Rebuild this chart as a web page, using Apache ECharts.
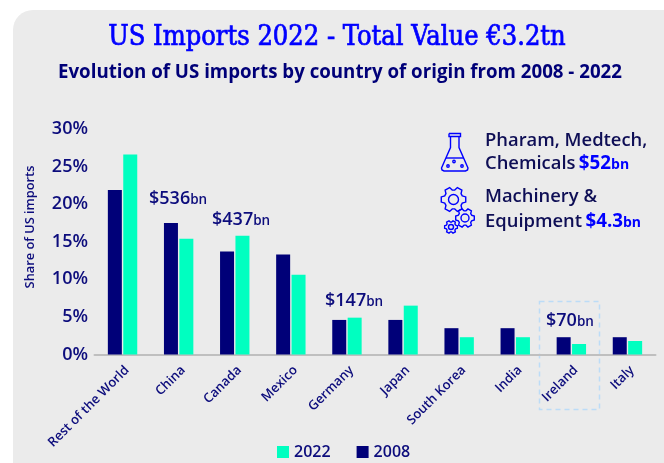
<!DOCTYPE html>
<html>
<head>
<meta charset="utf-8">
<style>
  html, body { margin: 0; padding: 0; background: #fff; }
  #main { width: 664px; height: 463px; }
</style>
<script src="https://cdn.jsdelivr.net/npm/echarts@6/dist/echarts.min.js"></script>
</head>
<body>
<div id="main"></div>
<script>
var categories = ['Rest of the World', 'China', 'Canada', 'Mexico', 'Germany', 'Japan', 'South Korea', 'India', 'Ireland', 'Italy'];
var values2008 = [21.9, 17.5, 13.7, 13.3, 4.6, 4.6, 3.5, 3.5, 2.3, 2.3];
var values2022 = [26.6, 15.4, 15.8, 10.6, 4.9, 6.5, 2.3, 2.3, 1.4, 1.8];

var navy = '#000078';
var mint = '#00ffc0';
var textNavy = '#0c0c7c';
var textDark = '#0e0e55';
var brightBlue = '#0000ff';
var font = '"Open Sans", "Noto Sans", sans-serif';

// gear outline for the icon
function gear(cx, cy, r, teeth) {
    var pts = [];
    var inner = r * 0.76;
    var w = Math.PI / teeth;
    for (var i = 0; i < teeth; i++) {
        var a = i * 2 * w;
        [[inner, a - w * 0.75], [r, a - w * 0.4], [r, a + w * 0.4], [inner, a + w * 0.75]].forEach(function (p) {
            pts.push([cx + p[0] * Math.cos(p[1]), cy + p[0] * Math.sin(p[1])]);
        });
    }
    return { type: 'polygon', shape: { points: pts }, style: { fill: null, stroke: brightBlue, lineWidth: 1.4 } };
}

function stroke(points) {
    return { type: 'polyline', shape: { points: points }, style: { fill: null, stroke: brightBlue, lineWidth: 1.4 } };
}

function ring(cx, cy, r) {
    return { type: 'circle', shape: { cx: cx, cy: cy, r: r }, style: { fill: null, stroke: brightBlue, lineWidth: 1.4 } };
}

function callout(x, y, value) {
    return {
        type: 'text', x: x, y: y,
        style: {
            text: '{a|' + value + '}{b|bn}',
            rich: {
                a: { font: '600 18px ' + font, fill: textNavy },
                b: { font: '600 13.5px ' + font, fill: textNavy, padding: [2, 0, 0, 0] }
            },
            verticalAlign: 'middle'
        }
    };
}

function sideText(x, y, plain, value) {
    var text = '{a|' + plain + '}';
    if (value) text += ' {v|' + value + '}{b|bn}';
    return {
        type: 'text', x: x, y: y,
        style: {
            text: text,
            rich: {
                a: { font: '600 18.4px ' + font, fill: textDark },
                v: { font: '700 18.8px ' + font, fill: brightBlue },
                b: { font: '700 14px ' + font, fill: brightBlue, padding: [2, 0, 0, 0] }
            },
            verticalAlign: 'middle'
        }
    };
}

var myChart = echarts.init(document.getElementById('main'), null, { renderer: 'canvas' });

var option = {
    backgroundColor: '#ffffff',
    animation: false,
    textStyle: { fontFamily: font },
    legend: {
        data: ['2022', '2008'],
        left: 272,
        top: 439,
        itemWidth: 12,
        itemHeight: 12,
        itemGap: 26,
        icon: 'rect',
        textStyle: { color: textNavy, fontSize: 16, fontWeight: 600, fontFamily: font }
    },
    grid: { left: 94.5, width: 561, top: 129, height: 225.5 },
    xAxis: {
        type: 'category',
        data: categories,
        axisLine: { lineStyle: { color: '#bfbfbf', width: 2 } },
        axisTick: { show: false },
        axisLabel: {
            rotate: 45,
            interval: 0,
            margin: 9,
            verticalAlign: 'top',
            color: textNavy,
            fontSize: 13,
            fontWeight: 600,
            fontFamily: font
        }
    },
    yAxis: {
        type: 'value',
        min: 0,
        max: 30,
        interval: 5,
        splitLine: { show: false },
        axisLine: { show: false },
        axisTick: { show: false },
        axisLabel: {
            margin: 6.5,
            color: textNavy,
            fontSize: 18,
            fontWeight: 600,
            fontFamily: font,
            formatter: '{value}%'
        }
    },
    series: [
        { name: '2008', type: 'bar', data: values2008, barWidth: 14, barGap: '10%', itemStyle: { color: navy } },
        { name: '2022', type: 'bar', data: values2022, barWidth: 14, barGap: '10%', itemStyle: { color: mint } }
    ],
    graphic: [
        { type: 'rect', z: -10, silent: true, shape: { x: 13, y: 10, width: 670, height: 470, r: [20, 0, 0, 0] }, style: { fill: '#ebebeb' } },
        { type: 'text', x: 337, y: 38, style: { text: 'US Imports 2022 - Total Value €3.2tn', font: '400 27px "DejaVu Serif Condensed", "DejaVu Serif", serif', fill: brightBlue, stroke: brightBlue, lineWidth: 0.7, textAlign: 'center', verticalAlign: 'middle' } },
        { type: 'text', x: 340, y: 73, style: { text: 'Evolution of US imports by country of origin from 2008 - 2022', font: '700 18.7px ' + font, fill: navy, textAlign: 'center', verticalAlign: 'middle' } },
        { type: 'text', x: 30, y: 227, rotation: Math.PI / 2, style: { text: 'Share of US imports', font: '600 12.8px ' + font, fill: textNavy, textAlign: 'center', verticalAlign: 'middle' } },
        callout(149, 199, '$536'),
        callout(212, 220, '$437'),
        callout(325, 301, '$147'),
        callout(546, 321, '$70'),
        { type: 'rect', shape: { x: 539.5, y: 301.5, width: 60, height: 108 }, style: { fill: null, stroke: '#bcdcf7', lineWidth: 1.5, lineDash: [5, 4] } },
        stroke([[449, 133.5], [460.5, 133.5], [460.5, 136.5], [449, 136.5], [449, 133.5]]),
        stroke([[450.5, 136.5], [450.5, 147.5], [441.5, 168], [442, 170], [444, 171], [465.5, 171], [467.5, 170], [468, 168], [459, 147.5], [459, 136.5]]),
        stroke([[446, 158], [463.5, 158]]),
        ring(448, 166, 1.2),
        ring(454, 161.5, 1.2),
        ring(462, 166, 1.2),
        gear(453.5, 199.5, 12.5, 6),
        ring(453.5, 199.5, 5),
        gear(465, 218, 9.5, 6),
        ring(465, 218, 4),
        gear(451, 227, 6.5, 6),
        ring(451, 227, 2.5),
        sideText(485, 141, 'Pharam, Medtech,'),
        sideText(485, 164, 'Chemicals', '$52'),
        sideText(485, 197, 'Machinery &'),
        sideText(485, 222, 'Equipment', '$4.3')
    ]
};

myChart.setOption(option);
</script>
</body>
</html>
